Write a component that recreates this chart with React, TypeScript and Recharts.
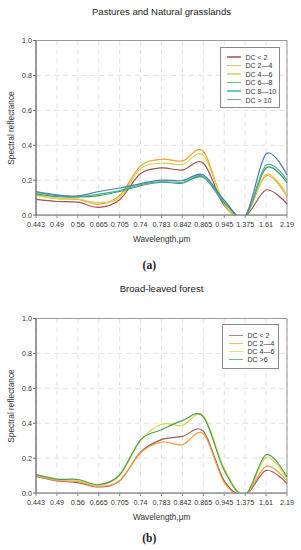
import React from 'react';
import { LineChart, Line, XAxis, YAxis, CartesianGrid, ReferenceArea } from 'recharts';

const wavelengths = ['0.443', '0.49', '0.56', '0.665', '0.705', '0.74', '0.783', '0.842', '0.865', '0.945', '1.375', '1.61', '2.19'];
const yTicks = [0, 0.2, 0.4, 0.6, 0.8, 1.0];

// Pastures and Natural grasslands
const pastureDcLt2 = [0.09, 0.078, 0.074, 0.044, 0.088, 0.238, 0.27, 0.258, 0.297, 0.055, -0.005, 0.144, 0.064];
const pastureDc2to4 = [0.115, 0.094, 0.09, 0.062, 0.112, 0.282, 0.32, 0.31, 0.365, 0.06, -0.005, 0.225, 0.106];
const pastureDc4to6 = [0.112, 0.096, 0.092, 0.072, 0.1, 0.266, 0.297, 0.29, 0.342, 0.065, -0.005, 0.234, 0.116];
const pastureDc6to8 = [0.122, 0.106, 0.104, 0.112, 0.135, 0.168, 0.188, 0.183, 0.217, 0.07, -0.005, 0.27, 0.186];
const pastureDc8to10 = [0.13, 0.112, 0.106, 0.12, 0.14, 0.175, 0.192, 0.188, 0.222, 0.075, -0.005, 0.286, 0.2];
const pastureDcGt10 = [0.135, 0.116, 0.11, 0.135, 0.155, 0.18, 0.2, 0.198, 0.23, 0.085, -0.005, 0.35, 0.23];

// Broad-leaved forest
const forestDcLt2 = [0.095, 0.07, 0.06, 0.035, 0.07, 0.235, 0.306, 0.325, 0.354, 0.07, -0.01, 0.13, 0.054];
const forestDc2to4 = [0.1, 0.073, 0.066, 0.038, 0.072, 0.23, 0.292, 0.277, 0.34, 0.06, -0.01, 0.153, 0.07];
const forestDc4to6 = [0.105, 0.078, 0.072, 0.045, 0.1, 0.3, 0.394, 0.388, 0.445, 0.14, -0.01, 0.203, 0.082];
const forestDcGt6 = [0.107, 0.08, 0.078, 0.048, 0.105, 0.305, 0.363, 0.415, 0.437, 0.13, -0.01, 0.22, 0.092];

const pastureSeries = [
  { key: 'a', name: 'DC < 2', color: '#a0524f', values: pastureDcLt2 },
  { key: 'b', name: 'DC 2—4', color: '#f0a035', values: pastureDc2to4 },
  { key: 'c', name: 'DC 4—6', color: '#d6d245', values: pastureDc4to6 },
  { key: 'd', name: 'DC 6—8', color: '#3f9a4c', values: pastureDc6to8 },
  { key: 'e', name: 'DC 8—10', color: '#3fb3b0', values: pastureDc8to10 },
  { key: 'f', name: 'DC > 10', color: '#4f7ea0', values: pastureDcGt10 },
];

const forestSeries = [
  { key: 'a', name: 'DC < 2', color: '#9c5a5a', values: forestDcLt2 },
  { key: 'b', name: 'DC 2—4', color: '#f0a040', values: forestDc2to4 },
  { key: 'c', name: 'DC 4—6', color: '#d8d64e', values: forestDc4to6 },
  { key: 'd', name: 'DC >6', color: '#4f9f4f', values: forestDcGt6 },
];

// Catmull-Rom style smoothing (like spreadsheet "smoothed line")
function smoothCurve(context: any) {
  const k = 1 / 6;
  let x0 = NaN, y0 = NaN, x1 = NaN, y1 = NaN, x2 = NaN, y2 = NaN;
  let pt = 0;
  let line: any = undefined;
  const seg = (x: number, y: number) => {
    context.bezierCurveTo(
      x1 + k * (x2 - x0), y1 + k * (y2 - y0),
      x2 + k * (x1 - x), y2 + k * (y1 - y),
      x2, y2
    );
  };
  return {
    areaStart() { line = 0; },
    areaEnd() { line = NaN; },
    lineStart() { x0 = x1 = x2 = y0 = y1 = y2 = NaN; pt = 0; },
    lineEnd() {
      if (pt === 2) context.lineTo(x2, y2);
      else if (pt === 3) seg(x1, y1);
      if (line || (line !== 0 && pt === 1)) context.closePath();
      line = 1 - line;
    },
    point(x: number, y: number) {
      x = +x; y = +y;
      switch (pt) {
        case 0: pt = 1; line ? context.lineTo(x, y) : context.moveTo(x, y); break;
        case 1: pt = 2; x1 = x; y1 = y; break;
        case 2: pt = 3; seg(x, y); break;
        default: seg(x, y); break;
      }
      x0 = x1; x1 = x2; x2 = x;
      y0 = y1; y1 = y2; y2 = y;
    },
  };
}

const FONT = '"Liberation Sans", Arial, sans-serif';

function buildData(series: any[]) {
  return wavelengths.map((w, i) => {
    const row: any = { w };
    series.forEach((s) => { row[s.key] = s.values[i]; });
    return row;
  });
}

function Panel({ top, series, title, letter, legend }: any) {
  const data = buildData(series);
  const plotTop = 40.5;
  const plotH = 174.6;
  const xAxisH = 20;
  return (
    <div style={{ position: 'absolute', left: 0, top, width: 301, height: 272 }}>
      <div style={{ position: 'absolute', left: 0, top: 0 }}>
        <LineChart width={301} height={plotTop + plotH + xAxisH} data={data}
          margin={{ top: plotTop, right: 14, left: 0, bottom: 0 }}>
          <CartesianGrid stroke="#d9d9d9" strokeDasharray="5 4" strokeWidth={0.8} />
          <ReferenceArea x1="0.443" x2="2.19" y1={0} y2={1} fill="none" stroke="#9a9a9a" strokeWidth={1} />
          <XAxis dataKey="w" interval={0} height={xAxisH} tickSize={3} tickMargin={4}
            tick={{ fontSize: 7.2, fill: '#333', fontFamily: FONT }}
            stroke="#8a8a8a" />
          <YAxis type="number" domain={[0, 1]} ticks={yTicks} allowDataOverflow width={36}
            tickSize={3} tickMargin={1} tickFormatter={(v: number) => v.toFixed(1)}
            tick={{ fontSize: 7.2, fill: '#333', fontFamily: FONT }}
            stroke="#6a6a6a" />
          {series.map((s: any) => (
            <Line key={s.key} dataKey={s.key} name={s.name} stroke={s.color} strokeWidth={1.2}
              dot={false} activeDot={false} isAnimationActive={false} type={smoothCurve as any} />
          ))}
        </LineChart>
      </div>
      <div style={{ position: 'absolute', left: 161.5, top: title.y, transform: 'translate(-50%, -50%)', fontSize: 9.6, fontFamily: FONT, color: '#222', whiteSpace: 'nowrap' }}>{title.text}</div>
      <div style={{ position: 'absolute', left: 11, top: plotTop + plotH / 2, transform: 'translate(-50%, -50%) rotate(-90deg)', fontSize: 8.3, fontFamily: FONT, color: '#333', whiteSpace: 'nowrap' }}>Spectral reflectance</div>
      <div style={{ position: 'absolute', left: 161.7, top: plotTop + plotH + 24, transform: 'translate(-50%, -50%)', fontSize: 8.3, fontFamily: FONT, color: '#333', whiteSpace: 'nowrap' }}>Wavelength,μm</div>
      <div style={{ position: 'absolute', left: 149.3, top: letter.y, transform: 'translate(-50%, -50%)', fontSize: 11.5, fontWeight: 'bold', fontFamily: '"Liberation Serif", "Times New Roman", serif', color: '#222', whiteSpace: 'nowrap' }}>{letter.text}</div>
      <div style={{ position: 'absolute', left: legend.x, top: legend.y, width: legend.w, height: legend.h, border: '1px solid #8a8a8a', background: '#fff', boxSizing: 'border-box' }}>
        {series.map((s: any, i: number) => (
          <div key={s.key} style={{ position: 'absolute', left: 0, top: legend.first + i * legend.step, width: '100%' }}>
            <div style={{ position: 'absolute', left: 5.5, top: -0.7, width: 14, height: 1.4, background: s.color, opacity: 0.75 }} />
            <div style={{ position: 'absolute', left: 24.5, top: 0, transform: 'translateY(-50%)', fontSize: 7, fontFamily: FONT, color: '#333', whiteSpace: 'nowrap', lineHeight: 1 }}>{s.name}</div>
          </div>
        ))}
      </div>
    </div>
  );
}

export default function App() {
  return (
    <div style={{ position: 'absolute', left: 0, top: 0, width: 301, height: 550, background: '#fff', overflow: 'hidden' }}>
      <Panel top={0} series={pastureSeries}
        title={{ text: 'Pastures and Natural grasslands', y: 10.5 }}
        letter={{ text: '(a)', y: 265 }}
        legend={{ x: 220, y: 46.5, w: 59.5, h: 61.5, first: 9.3, step: 8.55 }} />
      <Panel top={278} series={forestSeries}
        title={{ text: 'Broad-leaved forest', y: 9.5 }}
        letter={{ text: '(b)', y: 259.5 }}
        legend={{ x: 222, y: 46.3, w: 56.5, h: 45, first: 10, step: 8 }} />
    </div>
  );
}
